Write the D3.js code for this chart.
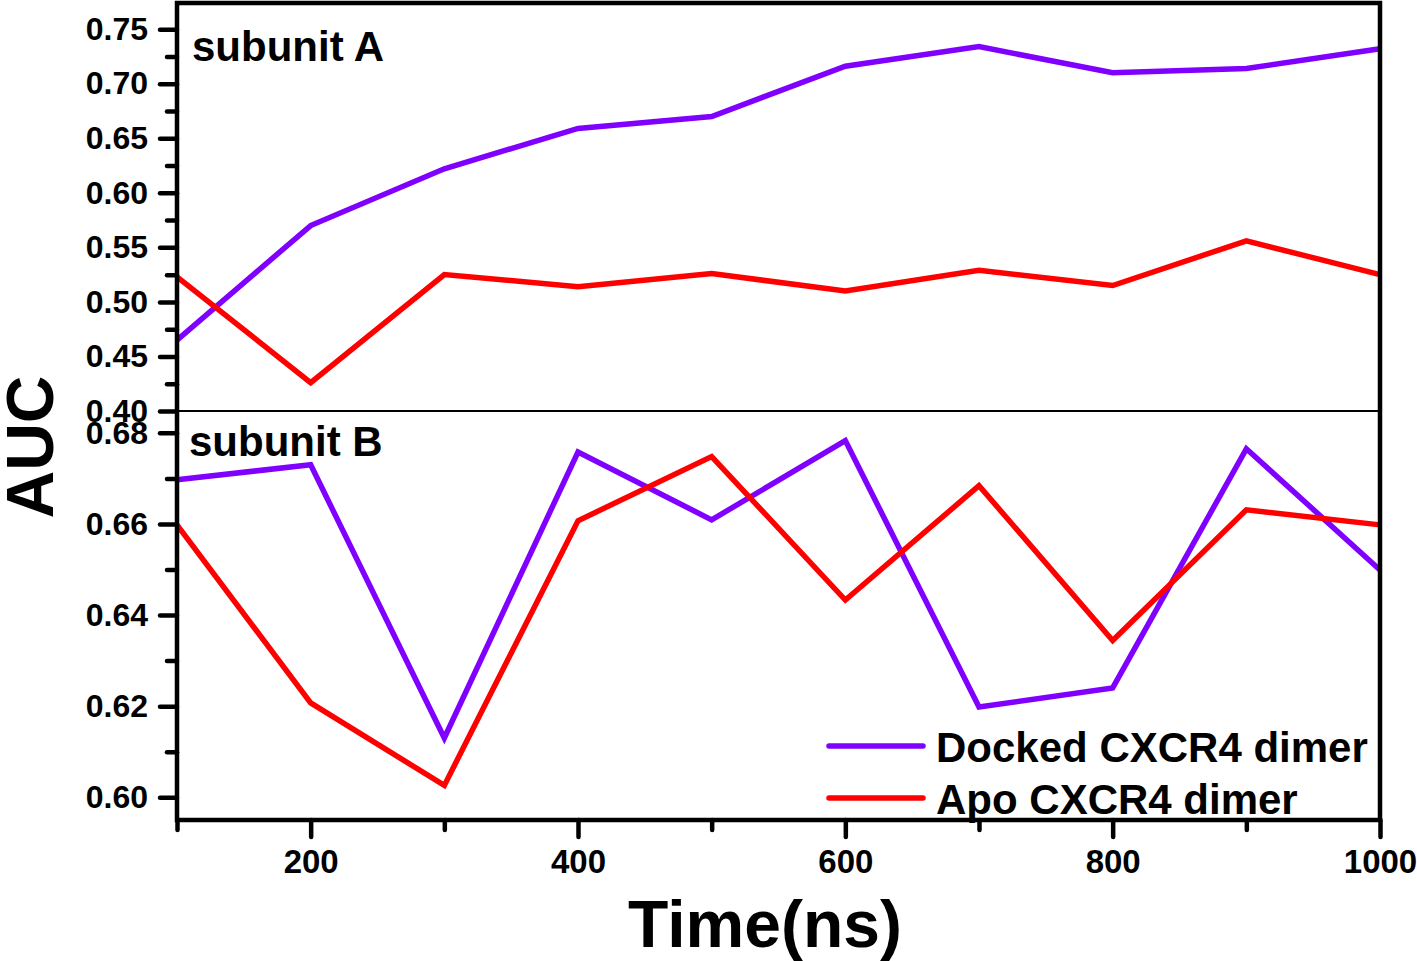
<!DOCTYPE html>
<html>
<head>
<meta charset="utf-8">
<script src="https://cdn.jsdelivr.net/npm/d3@7"></script>
<style>
    body { margin: 0; background: #fff; }
    text { font-family: "Liberation Sans", Arial, sans-serif; font-weight: bold; fill: #000; }
</style>
</head>
<body>
<svg id="chart" width="1417" height="961"></svg>
<script>
/*
 * Data
 */
var TIME = [100, 200, 300, 400, 500, 600, 700, 800, 900, 1000];

var A_DOCKED = [0.465, 0.570, 0.622, 0.659, 0.670, 0.716, 0.734, 0.710, 0.714, 0.732];
var A_APO    = [0.523, 0.426, 0.525, 0.514, 0.526, 0.510, 0.529, 0.515, 0.556, 0.525];

var B_DOCKED = [0.6697, 0.6730, 0.6130, 0.6758, 0.6609, 0.6783, 0.6198, 0.6240, 0.6765, 0.6499];
var B_APO    = [0.6598, 0.6207, 0.6026, 0.6607, 0.6748, 0.6433, 0.6684, 0.6344, 0.6631, 0.6598];

var X_MAJOR = [200, 400, 600, 800, 1000],
    X_MINOR = [100, 300, 500, 700, 900];
var A_MAJOR = [0.40, 0.45, 0.50, 0.55, 0.60, 0.65, 0.70, 0.75],
    A_MINOR = [0.425, 0.475, 0.525, 0.575, 0.625, 0.675, 0.725];
var B_MAJOR = [0.60, 0.62, 0.64, 0.66, 0.68],
    B_MINOR = [0.61, 0.63, 0.65, 0.67];

var SERIES_NAMES = ['Docked CXCR4 dimer', 'Apo CXCR4 dimer'];

/*
 * Style variables
 */
var LEFT = 177, RIGHT = 1380, TOP = 3, MID = 411, BOTTOM = 820;
var PURPLE = '#8000ff', RED = '#ff0000';
var AXIS_W = 4.5, LINE_W = 5.5;

var svg = d3.select('#chart');

svg.append('rect')
    .attr('width', 1417)
    .attr('height', 961)
    .attr('fill', '#fff');

/*
 * Scales
 */
var x = d3.scaleLinear().domain([100, 1000]).range([LEFT, RIGHT]);
var yA = d3.scaleLinear().domain([0.40, 0.774]).range([MID, TOP]);
var yB = d3.scaleLinear().domain([0.595, 0.6848]).range([BOTTOM, MID]);

function styleAxis(g, size) {
    g.select('.domain').remove();
    g.selectAll('.tick line')
        .attr('stroke', '#000')
        .attr('stroke-width', AXIS_W)
        .attr('stroke-linecap', 'round');
    g.selectAll('.tick text')
        .style('font-size', size + 'px')
        .style('font-family', '"Liberation Sans", Arial, sans-serif')
        .style('font-weight', 'bold');
}

/*
 * Y axes, major + minor
 */
function drawYAxis(scale, major, minor) {
    svg.append('g')
        .attr('transform', 'translate(' + LEFT + ',0)')
        .call(d3.axisLeft(scale).tickValues(minor).tickSize(10).tickFormat(''))
        .call(styleAxis, 32);
    svg.append('g')
        .attr('transform', 'translate(' + LEFT + ',0)')
        .call(d3.axisLeft(scale).tickValues(major).tickSize(17).tickPadding(12).tickFormat(d3.format('.2f')))
        .call(styleAxis, 32);
}
drawYAxis(yB, B_MAJOR, B_MINOR);
drawYAxis(yA, A_MAJOR, A_MINOR);

/*
 * X axis
 */
svg.append('g')
    .attr('transform', 'translate(0,' + BOTTOM + ')')
    .call(d3.axisBottom(x).tickValues(X_MINOR).tickSize(10).tickFormat(''))
    .call(styleAxis, 33);
svg.append('g')
    .attr('transform', 'translate(0,' + BOTTOM + ')')
    .call(d3.axisBottom(x).tickValues(X_MAJOR).tickSize(17).tickPadding(13).tickFormat(d3.format('d')))
    .call(styleAxis, 33);

/*
 * Lines
 */
function drawLine(scale, values, color) {
    var line = d3.line()
        .x(function (d, i) { return x(TIME[i]); })
        .y(function (d) { return scale(d); });
    svg.append('path')
        .datum(values)
        .attr('d', line)
        .attr('fill', 'none')
        .attr('stroke', color)
        .attr('stroke-width', LINE_W)
        .attr('stroke-linejoin', 'miter');
}
drawLine(yA, A_DOCKED, PURPLE);
drawLine(yA, A_APO, RED);
drawLine(yB, B_DOCKED, PURPLE);
drawLine(yB, B_APO, RED);

/*
 * Frame and divider
 */
svg.append('line')
    .attr('x1', LEFT).attr('x2', RIGHT)
    .attr('y1', MID).attr('y2', MID)
    .attr('stroke', '#000')
    .attr('stroke-width', 2);

svg.append('rect')
    .attr('x', LEFT).attr('y', TOP)
    .attr('width', RIGHT - LEFT)
    .attr('height', BOTTOM - TOP)
    .attr('fill', 'none')
    .attr('stroke', '#000')
    .attr('stroke-width', AXIS_W);

/*
 * Panel labels
 */
svg.append('text').attr('x', 192).attr('y', 61)
    .style('font-size', '42px').text('subunit A');
svg.append('text').attr('x', 189).attr('y', 456)
    .style('font-size', '42px').text('subunit B');

/*
 * Axis titles
 */
svg.append('text')
    .attr('transform', 'translate(53,447) rotate(-90)')
    .attr('text-anchor', 'middle')
    .style('font-size', '66px')
    .text('AUC');

svg.append('text')
    .attr('x', 765).attr('y', 947)
    .attr('text-anchor', 'middle')
    .style('font-size', '66px')
    .text('Time(ns)');

/*
 * Legend
 */
var legend = svg.append('g');
[PURPLE, RED].forEach(function (c, i) {
    var ly = 746 + i * 52;
    legend.append('line')
        .attr('x1', 829).attr('x2', 923)
        .attr('y1', ly).attr('y2', ly)
        .attr('stroke', c)
        .attr('stroke-width', LINE_W)
        .attr('stroke-linecap', 'round');
    legend.append('text')
        .attr('x', 936).attr('y', ly + 16)
        .style('font-size', '42px')
        .text(SERIES_NAMES[i]);
});
</script>
</body>
</html>
